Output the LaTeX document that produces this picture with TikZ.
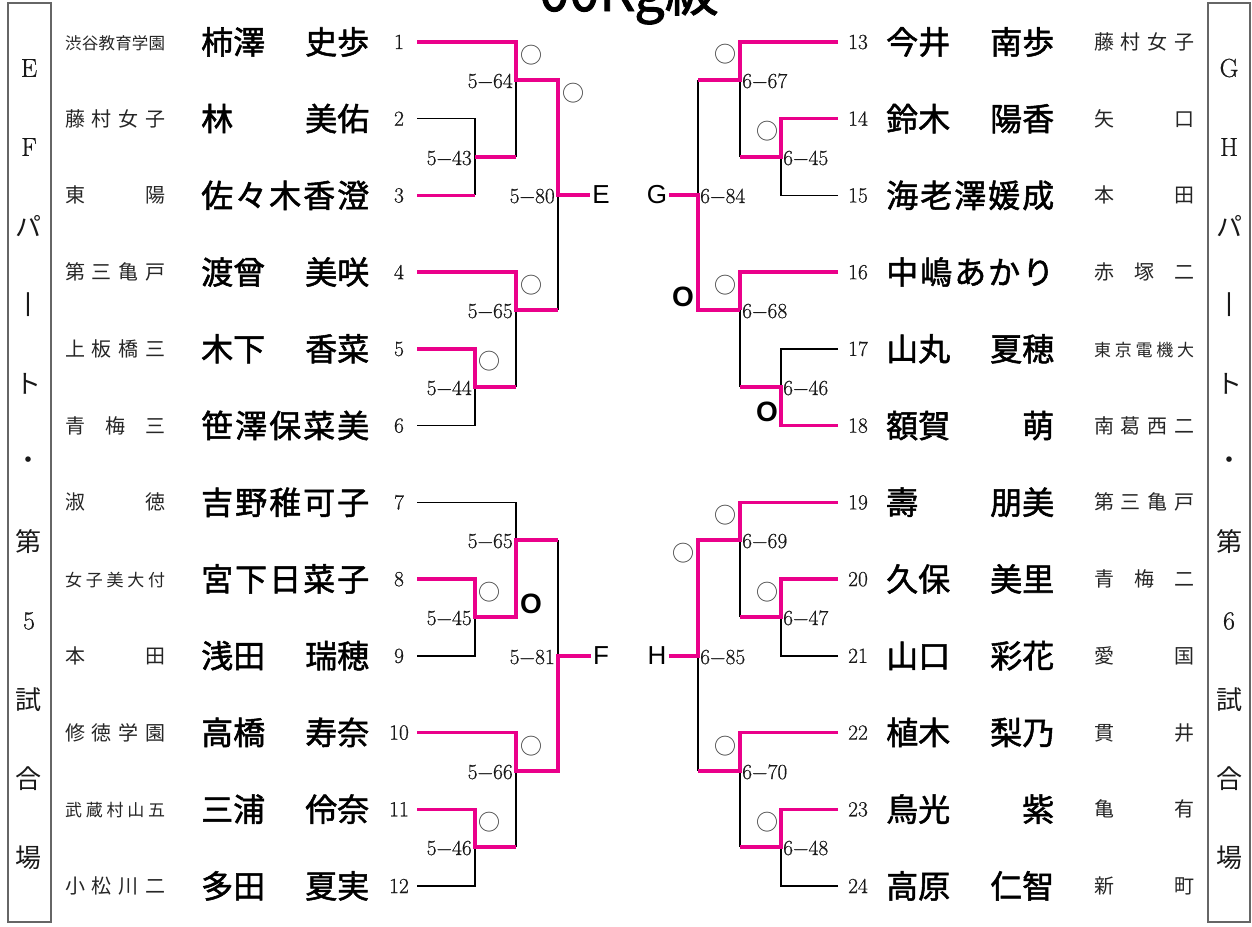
\documentclass[tikz,border=0pt]{standalone}
\usepackage{fontspec}
\newfontfamily\cjk{Noto Sans CJK JP}
\newfontfamily\cjkn[FakeBold=1.6]{Noto Sans CJK JP}
\newfontfamily\arialf{Liberation Sans}
\newfontfamily\numf[FakeBold=0.6]{Latin Modern Roman}
\definecolor{winpink}{RGB}{234,0,138}
\begin{document}
\begin{tikzpicture}[x=1pt,y=-1pt,
 win/.style={draw=winpink,line width=3.4pt},
 lose/.style={draw=black,line width=1.5pt},
 num/.style={font=\numf\fontsize{21.5}{24}\selectfont,text=black!90,inner sep=0pt,anchor=base},
 mlabl/.style={font=\numf\fontsize{21.5}{24}\selectfont,text=black!90,inner sep=0pt,anchor=base east},
 mlabr/.style={font=\numf\fontsize{21.5}{24}\selectfont,text=black!90,inner sep=0pt,anchor=base west},
 pname/.style={font=\cjkn\fontsize{32}{36}\selectfont,inner sep=0pt,anchor=base west},
 school/.style={font=\cjk\fontsize{20}{24}\selectfont,text=black!85,inner sep=0pt,anchor=base west},
 boxch/.style={font=\numf\fontsize{26}{28}\selectfont,text=black!90,inner sep=0pt},
 thinc/.style={font=\cjk\fontsize{22}{24}\selectfont,text=black!75,inner sep=0pt},
 thickc/.style={font=\arialf\bfseries\fontsize{28}{30}\selectfont,inner sep=0pt},
 part/.style={font=\arialf\fontsize{26}{28}\selectfont,inner sep=2pt},
 frame/.style={draw=black!60,line width=1.6pt}]
\useasboundingbox (0,0) rectangle (1252,926);
\fill[white] (0,0) rectangle (1252,926);
\clip (0,0) rectangle (1252,926);

% title (cut at top)
\node[anchor=base,font=\cjkn\fontsize{54}{60}\selectfont,inner sep=0pt] (title) at (629,11) {00Kg級};

% side frames
\draw[frame] (8,3) rectangle (51,922);
\draw[frame] (1208,3) rectangle (1250,922);
\foreach \ch [count=\k from 0] in {E,F,{\cjk パ},{\cjk 丨},{\cjk ト},{\cjk ・},{\cjk 第},5,{\cjk 試},{\cjk 合},{\cjk 場}}
  \node[boxch] (L\k) at (29,{68+79*\k}) {\ch};
\foreach \ch [count=\k from 0] in {G,H,{\cjk パ},{\cjk 丨},{\cjk ト},{\cjk ・},{\cjk 第},6,{\cjk 試},{\cjk 合},{\cjk 場}}
  \node[boxch] (R\k) at (1229,{68+79*\k}) {\ch};

% left entries
\foreach \i/\sch/\nam in {
1/{\fontsize{16.5}{20}\selectfont 渋\hfill 谷\hfill 教\hfill 育\hfill 学\hfill 園}/{柿澤\hfill 史歩},
2/{藤\hfill 村\hfill 女\hfill 子}/{林\hfill 美佑},
3/{東\hfill 陽}/{佐\hfill 々\hfill 木\hfill 香\hfill 澄},
4/{第\hfill 三\hfill 亀\hfill 戸}/{渡曾\hfill 美咲},
5/{上\hfill 板\hfill 橋\hfill 三}/{木下\hfill 香菜},
6/{青\hfill 梅\hfill 三}/{笹\hfill 澤\hfill 保\hfill 菜\hfill 美},
7/{淑\hfill 徳}/{吉\hfill 野\hfill 稚\hfill 可\hfill 子},
8/{\fontsize{17}{20}\selectfont 女\hfill 子\hfill 美\hfill 大\hfill 付}/{宮\hfill 下\hfill 日\hfill 菜\hfill 子},
9/{本\hfill 田}/{浅田\hfill 瑞穂},
10/{修\hfill 徳\hfill 学\hfill 園}/{高橋\hfill 寿奈},
11/{\fontsize{17}{20}\selectfont 武\hfill 蔵\hfill 村\hfill 山\hfill 五}/{三浦\hfill 伶奈},
12/{小\hfill 松\hfill 川\hfill 二}/{多田\hfill 夏実}}{
  \pgfmathsetmacro\yy{42+(\i-1)*76.73}
  \node[school] (sc\i) at (65,\yy+7.5) {\makebox[100pt][s]{\sch}};
  \node[pname] (nm\i) at (201,\yy+12) {\makebox[168pt][s]{\nam}};
  \node[num] (n\i) at (399,\yy+7) {\i};
  \coordinate (s\i) at (417,\yy);
}
% right entries
\foreach \i/\sch/\nam in {
13/{藤\hfill 村\hfill 女\hfill 子}/{今井\hfill 南歩},
14/{矢\hfill 口}/{鈴木\hfill 陽香},
15/{本\hfill 田}/{海\hfill 老\hfill 澤\hfill 媛\hfill 成},
16/{赤\hfill 塚\hfill 二}/{中\hfill 嶋\hfill あ\hfill か\hfill り},
17/{\fontsize{17}{20}\selectfont 東\hfill 京\hfill 電\hfill 機\hfill 大}/{山丸\hfill 夏穂},
18/{南\hfill 葛\hfill 西\hfill 二}/{額賀\hfill 萌},
19/{第\hfill 三\hfill 亀\hfill 戸}/{壽\hfill 朋美},
20/{青\hfill 梅\hfill 二}/{久保\hfill 美里},
21/{愛\hfill 国}/{山口\hfill 彩花},
22/{貫\hfill 井}/{植木\hfill 梨乃},
23/{亀\hfill 有}/{鳥光\hfill 紫},
24/{新\hfill 町}/{高原\hfill 仁智}}{
  \pgfmathsetmacro\yy{42+(\i-13)*76.73}
  \node[school] (sc\i) at (1094,\yy+7.5) {\makebox[100pt][s]{\sch}};
  \node[pname] (nm\i) at (886,\yy+12) {\makebox[168pt][s]{\nam}};
  \node[num] (n\i) at (858,\yy+7) {\i};
  \coordinate (s\i) at (838,\yy);
}

% junctions left
\coordinate (a564) at (516,80);
\coordinate (a543) at (475,157);
\coordinate (a580) at (558,195);
\coordinate (a565) at (516,310);
\coordinate (a544) at (475,387);
\coordinate (b565) at (516,540);
\coordinate (a545) at (475,617);
\coordinate (a581) at (558,656);
\coordinate (a566) at (516,771);
\coordinate (a546) at (475,847);
% junctions right
\coordinate (c667) at (740,80);
\coordinate (c645) at (781,157);
\coordinate (c684) at (698,195);
\coordinate (c668) at (740,310);
\coordinate (c646) at (781,387);
\coordinate (c669) at (740,540);
\coordinate (c647) at (781,617);
\coordinate (c685) at (698,656);
\coordinate (c670) at (740,771);
\coordinate (c648) at (781,847);

% block labels
\node[part] (E) at (601,195) {E};
\node[part] (F) at (601,656) {F};
\node[part] (G) at (657,195) {G};
\node[part] (H) at (657,656) {H};

% match labels
\foreach \c/\t in {a564/5−64,a543/5−43,a580/5−80,a565/5−65,a544/5−44,b565/5−65,a545/5−45,a581/5−81,a566/5−66,a546/5−46}
  \node[mlabl] (lab\c) at ([xshift=-3pt,yshift=-8pt]\c) {\t};
\foreach \c/\t in {c667/6−67,c645/6−45,c684/6−84,c668/6−68,c646/6−46,c669/6−69,c647/6−47,c685/6−85,c670/6−70,c648/6−48}
  \node[mlabr] (lab\c) at ([xshift=2pt,yshift=-8pt]\c) {\t};

% ---- left bracket, black
\draw[lose] (s2) -| (a543 |- s3);
\draw[lose] (a564) -- (a564 |- a543);
\draw[lose] (a580) -- (a580 |- a565);
\draw[lose] (a565) -- (a565 |- a544);
\draw[lose] (s6) -| (a544);
\draw[lose] (s7) -| (b565);
\draw[lose] (s9) -| (a545);
\draw[lose] (b565 -| a581) -- (a581);
\draw[lose] (a566) -- (a566 |- a546);
\draw[lose] (s12) -| (a546);
% ---- left bracket, winners
\draw[win] (s1) -| (a564) -| (a580) -- (E);
\draw[win] (s3) -- (s3 -| a543);
\draw[win] (a543) -- (a543 -| a564);
\draw[win] (s4) -| (a565) -- (a565 -| a580);
\draw[win] (s5) -| (a544) -- (a544 -| a565);
\draw[win] (s8) -| (a545) -| (b565) -- (b565 -| a581);
\draw[win] (s10) -| (a566) -| (a581) -- (F);
\draw[win] (s11) -| (a546) -- (a546 -| a566);

% ---- right bracket, black
\draw[lose] (c667 -| c684) -- (c684);
\draw[lose] (c667) -- (c667 |- c645);
\draw[lose] (s15) -| (c645);
\draw[lose] (c668) -- (c668 |- c646);
\draw[lose] (s17) -| (c646);
\draw[lose] (c669) -- (c669 |- c647);
\draw[lose] (s21) -| (c647);
\draw[lose] (c685) -- (c685 |- c670);
\draw[lose] (c670) -- (c670 |- c648);
\draw[lose] (s24) -| (c648);
% ---- right bracket, winners
\draw[win] (s13) -| (c667) -- (c667 -| c684);
\draw[win] (s14) -| (c645) -- (c645 -| c667);
\draw[win] (G) -- (c684) |- (c668);
\draw[win] (s16) -| (c668);
\draw[win] (s18) -| (c646) -- (c646 -| c668);
\draw[win] (H) -- (c685) |- (c669) |- (s19);
\draw[win] (s20) -| (c647) -- (c647 -| c669);
\draw[win] (s22) -| (c670) -- (c670 -| c685);
\draw[win] (s23) -| (c648) -- (c648 -| c670);

% circle marks
\foreach \p [count=\k] in {(531,55),(573,93),(531,285),(489,361),(489,592),(531,746),(489,822),(725,54),(767,131),(725,285),(725,515),(683,553),(767,592),(725,746),(767,822)}
  \node[thinc] (o\k) at \p {○};
\foreach \p [count=\k] in {(683,297),(767,412),(531,604)}
  \node[thickc] (O\k) at \p {O};
\end{tikzpicture}
\end{document}
